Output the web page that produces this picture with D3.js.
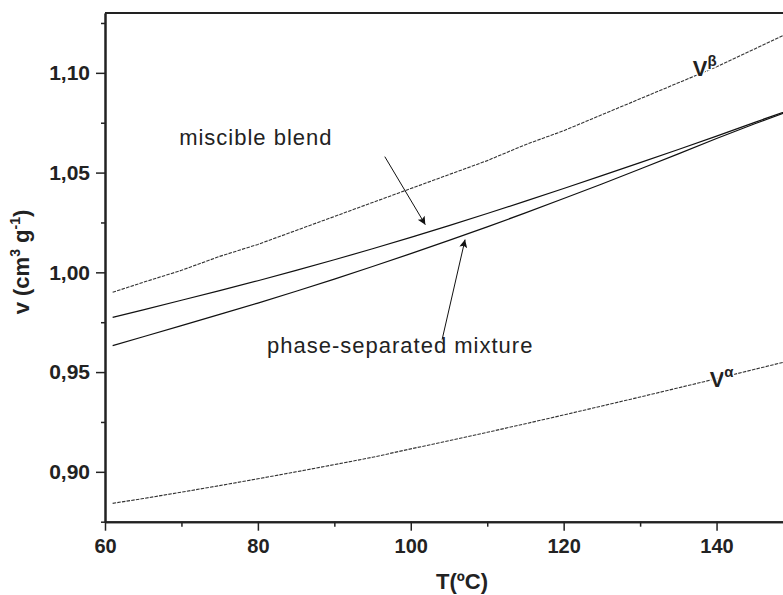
<!DOCTYPE html>
<html>
<head>
<meta charset="utf-8">
<script src="https://cdn.jsdelivr.net/npm/d3@7"></script>
<style>
    body { margin: 0; background: white; }
    svg { display: block; }
</style>
</head>
<body>
<script>
// -------------------------------------------------------------------------- //
//                                  DATA                                      //
// -------------------------------------------------------------------------- //

var temperature = [61, 65, 70, 75, 80, 85, 90, 95, 100, 105, 110, 115, 120, 125, 130, 135, 140, 145, 150];

var vBeta      = [0.9900, 0.9950, 1.0010, 1.0080, 1.0140, 1.0210, 1.0280, 1.0350, 1.0420, 1.0490,
                  1.0560, 1.0640, 1.0710, 1.0790, 1.0870, 1.0950, 1.1030, 1.1120, 1.1210];
var vAlpha     = [0.8842, 0.8866, 0.8898, 0.8931, 0.8965, 0.9000, 0.9036, 0.9073, 0.9115, 0.9156,
                  0.9198, 0.9241, 0.9285, 0.9330, 0.9375, 0.9421, 0.9467, 0.9514, 0.9561];
var vMiscible  = [0.9774, 0.9812, 0.9860, 0.9908, 0.9958, 1.0010, 1.0063, 1.0118, 1.0175, 1.0234,
                  1.0295, 1.0357, 1.0420, 1.0485, 1.0550, 1.0616, 1.0683, 1.0752, 1.0820];
var vSeparated = [0.9633, 0.9677, 0.9733, 0.9789, 0.9846, 0.9905, 0.9966, 1.0029, 1.0094, 1.0160,
                  1.0228, 1.0298, 1.0370, 1.0443, 1.0518, 1.0594, 1.0671, 1.0745, 1.0815];

var xMajorTicks = [60, 80, 100, 120, 140];
var xMinorTicks = [70, 90, 110, 130, 150];
var yMajorTicks = [0.90, 0.95, 1.00, 1.05, 1.10];
var yMinorTicks = [0.875, 0.925, 0.975, 1.025, 1.075, 1.125];

// annotation text anchors and arrows, in data units (T, v)
var annotations = [ { "text": "miscible blend",          "t": 69.7, "v": 1.0637 },
                    { "text": "phase-separated mixture", "t": 81.2, "v": 0.9597 } ];
var arrows      = [ { "t1": 96.6,  "v1": 1.0580, "t2": 101.9, "v2": 1.0239 },
                    { "t1": 104.1, "v1": 0.9663, "t2": 107.1, "v2": 1.0164 } ];
var curveLabels = [ { "sup": "\u03b2", "t": 136.9, "v": 1.0985 },
                    { "sup": "\u03b1", "t": 139.1, "v": 0.9425 } ];

// -------------------------------------------------------------------------- //
//                                  SETUP                                     //
// -------------------------------------------------------------------------- //

var width = 783, height = 595;
var inkColor = "#222";
var fontFamily = "Liberation Sans, Arial, sans-serif";

var svg = d3.select("body")
    .append("svg")
    .attr("width", width)
    .attr("height", height);

var x = d3.scaleLinear().domain([60, 150]).range([105, 793]);
var y = d3.scaleLinear().domain([0.875, 1.13]).range([521.7, 13]);

var commaFormat = function (d) { return d3.format(".2f")(d).replace(".", ","); };

// -------------------------------------------------------------------------- //
//                                  CURVES                                    //
// -------------------------------------------------------------------------- //

function seriesPoints (values)
{
    return temperature.map(function (t, i) { return { "t": t, "v": values[i] }; });
}

var lineFunction = d3.line()
    .x(function (d) { return x(d.t); })
    .y(function (d) { return y(d.v); });

var plot = svg.append("g");

function drawCurve (values, stroke, width, dash)
{
    return plot.append("path")
        .attr("d", lineFunction(seriesPoints(values)))
        .attr("fill", "none")
        .attr("stroke", stroke)
        .attr("stroke-width", width)
        .attr("stroke-dasharray", dash);
}

drawCurve(vBeta,      "#333", 1.1, "3.5,1.2");
drawCurve(vAlpha,     "#333", 1.1, "3.5,1.2");
drawCurve(vMiscible,  "#111", 1.2, null);
drawCurve(vSeparated, "#111", 1.2, null);

// -------------------------------------------------------------------------- //
//                                   AXES                                     //
// -------------------------------------------------------------------------- //

function styleAxis (g)
{
    g.select(".domain").attr("stroke", inkColor).attr("stroke-width", 2);
    g.selectAll(".tick line").attr("stroke", inkColor).attr("stroke-width", 1.5);
    g.selectAll(".tick text")
        .attr("fill", inkColor)
        .style("font-family", fontFamily)
        .style("font-weight", "bold");
}

svg.append("g")
    .attr("transform", "translate(0," + y.range()[0] + ")")
    .call(d3.axisBottom(x).tickValues(xMinorTicks).tickSize(5).tickSizeOuter(0).tickFormat(""))
    .call(styleAxis);

svg.append("g")
    .attr("transform", "translate(0," + y.range()[0] + ")")
    .call(d3.axisBottom(x).tickValues(xMajorTicks).tickSize(9).tickSizeOuter(0).tickPadding(8))
    .call(styleAxis)
    .selectAll(".tick text").style("font-size", "20px");

svg.append("g")
    .attr("transform", "translate(" + x.range()[0] + ",0)")
    .call(d3.axisLeft(y).tickValues(yMinorTicks).tickSize(4).tickSizeOuter(0).tickFormat(""))
    .call(styleAxis);

svg.append("g")
    .attr("transform", "translate(" + x.range()[0] + ",0)")
    .call(d3.axisLeft(y).tickValues(yMajorTicks).tickSize(9).tickSizeOuter(0).tickPadding(6).tickFormat(commaFormat))
    .call(styleAxis)
    .selectAll(".tick text").style("font-size", "21px");

// top frame line
svg.append("line")
    .attr("x1", x.range()[0]).attr("x2", x.range()[1])
    .attr("y1", y.range()[1]).attr("y2", y.range()[1])
    .attr("stroke", inkColor)
    .attr("stroke-width", 2);

// axis titles
svg.append("text")
    .attr("x", 462)
    .attr("y", 589)
    .attr("text-anchor", "middle")
    .attr("fill", inkColor)
    .style("font-family", fontFamily)
    .style("font-weight", "bold")
    .style("font-size", "22px")
    .text("T(\u00baC)");

var yTitle = svg.append("text")
    .attr("transform", "translate(29,262) rotate(-90)")
    .attr("text-anchor", "middle")
    .attr("fill", inkColor)
    .style("font-family", fontFamily)
    .style("font-weight", "bold")
    .style("font-size", "22px");

yTitle.append("tspan").text("v (cm");
yTitle.append("tspan").attr("dy", -9).style("font-size", "14px").text("3");
yTitle.append("tspan").attr("dy", 9).text(" g");
yTitle.append("tspan").attr("dy", -9).style("font-size", "14px").text("-1");
yTitle.append("tspan").attr("dy", 9).text(")");

// -------------------------------------------------------------------------- //
//                               ANNOTATIONS                                  //
// -------------------------------------------------------------------------- //

var defs = svg.append("defs");
defs.append("marker")
    .attr("id", "arrowHead")
    .attr("viewBox", "0 0 10 10")
    .attr("refX", 10)
    .attr("refY", 5)
    .attr("markerUnits", "userSpaceOnUse")
    .attr("markerWidth", 11)
    .attr("markerHeight", 8)
    .attr("orient", "auto")
    .append("path")
    .attr("d", "M0,0 L10,5 L0,10 L2,5 Z")
    .attr("fill", "#111");

arrows.forEach(function (a) {
    svg.append("line")
        .attr("x1", x(a.t1)).attr("y1", y(a.v1))
        .attr("x2", x(a.t2)).attr("y2", y(a.v2))
        .attr("stroke", "#111")
        .attr("stroke-width", 1)
        .attr("marker-end", "url(#arrowHead)");
});

annotations.forEach(function (a) {
    svg.append("text")
        .attr("x", x(a.t))
        .attr("y", y(a.v))
        .attr("fill", inkColor)
        .style("font-family", fontFamily)
        .style("font-size", "22px")
        .style("letter-spacing", "1px")
        .text(a.text);
});

curveLabels.forEach(function (c) {
    var label = svg.append("text")
        .attr("x", x(c.t))
        .attr("y", y(c.v))
        .attr("fill", inkColor)
        .attr("stroke", "white")
        .attr("stroke-width", 3)
        .attr("paint-order", "stroke")
        .style("font-family", fontFamily)
        .style("font-weight", "bold")
        .style("font-size", "22px");
    label.append("tspan").text("V");
    label.append("tspan")
        .attr("dy", -10)
        .style("font-size", "15px")
        .text(c.sup);
});
</script>
</body>
</html>
